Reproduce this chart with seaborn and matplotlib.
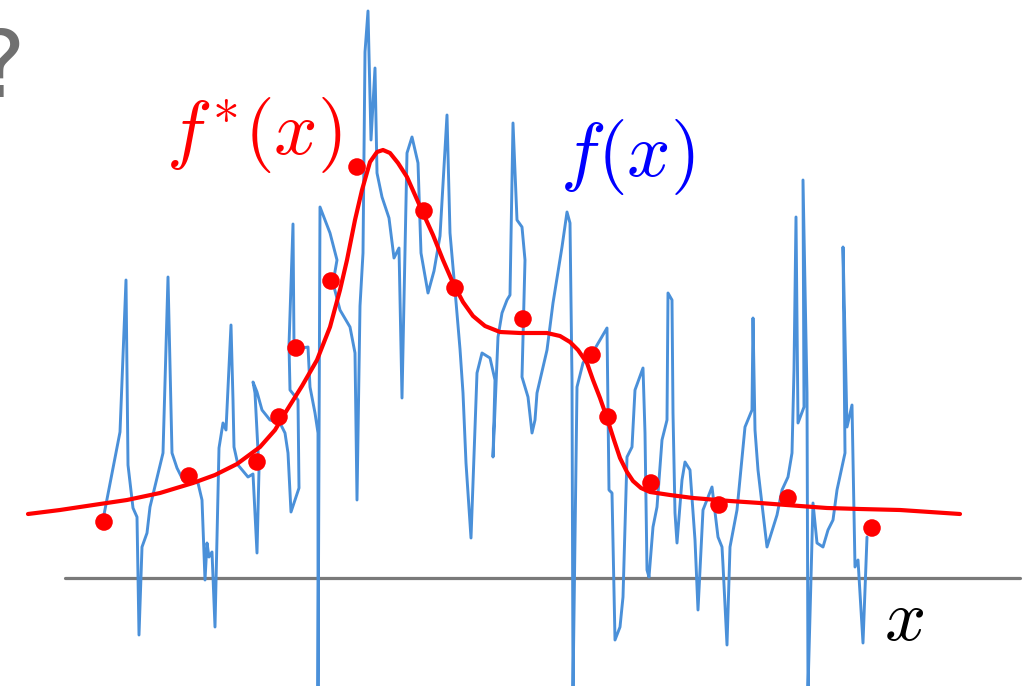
import numpy as np
import pandas as pd
import matplotlib
matplotlib.use("Agg")
import matplotlib.pyplot as plt
import seaborn as sns

# Over-fitted curve f(x): a jagged path that passes near every sample
f_x = [102, 120, 126, 128, 133, 137, 139, 142, 147, 150, 157, 163, 168, 172, 177, 183, 198, 202,
       205, 207, 209, 212, 215, 219, 223, 226, 231, 233, 234, 238, 248, 253, 257, 259, 255, 253,
       257, 262, 270, 280, 285, 288, 291, 299, 298, 290, 289, 293, 294, 298, 302, 308, 310, 315,
       318, 318, 320, 330, 337, 333, 340, 350, 355, 357, 360, 363, 365, 368, 371, 375, 377, 382,
       389, 394, 399, 402, 407, 412, 418, 421, 428, 434, 440, 447, 450, 455, 460, 463, 466, 471,
       477, 482, 490, 495, 493, 498, 502, 507, 510, 513, 517, 522, 525, 522, 528, 532, 535, 537,
       547, 553, 562, 567, 570, 572, 573, 577, 583, 587, 593, 607, 609, 612, 615, 620, 623, 627,
       632, 635, 643, 645, 647, 649, 653, 657, 662, 667, 668, 672, 673, 675, 677, 682, 685, 690,
       695, 698, 703, 712, 718, 722, 723, 727, 730, 737, 745, 752, 753, 755, 758, 767, 777, 782,
       788, 792, 794, 796, 798, 804, 803, 807, 808, 813, 817, 823, 828, 833, 837, 845, 843, 847,
       852, 855, 858, 863, 867]
f_y = [53, 146, 298, 113, 70, 61, -57, 31, 45, 71, 100, 125, 301, 125, 110, 98, 95, 78,
       -2, 35, 21, 26, -49, 130, 155, 148, 253, 178, 131, 113, 101, 104, 25, 108, 185, 196,
       186, 168, 158, 155, 145, 125, 66, 90, 178, 188, 233, 354, 233, 226, 230, 231, 191, 165,
       145, -112, 371, 345, 318, 295, 268, 251, 225, 78, 272, 325, 526, 567, 438, 510, 405, 381,
       360, 320, 330, 180, 425, 441, 415, 325, 285, 307, 342, 463, 345, 288, 229, 185, 115, 40,
       205, 225, 220, 198, 121, 241, 265, 278, 283, 455, 358, 351, 318, 201, 181, 145, 158, 185,
       228, 275, 331, 366, 355, 198, -112, 191, 215, 221, 226, 250, 88, 85, -62, -49, -19, 121,
       131, 188, 210, 145, 8, 1, 51, 71, 138, 158, 285, 278, 165, 65, 35, 98, 116, 108,
       38, -32, 68, 91, 41, 31, 13, -67, 31, 68, 151, 168, 260, 148, 108, 31, 63, 88,
       101, 125, 208, 361, 155, 171, 398, 185, -112, 75, 35, 31, 48, 58, 88, 125, 331, 151,
       173, 11, 18, -65, 41]

# Smooth target curve f*(x)
g_x = [28, 60, 100, 127, 160, 193, 215, 237, 260, 275, 287, 302, 317, 330, 340, 347, 355, 362,
       370, 377, 383, 390, 398, 407, 415, 423, 433, 443, 453, 463, 473, 485, 500, 520, 547, 560,
       570, 578, 587, 593, 600, 607, 614, 620, 627, 633, 641, 650, 670, 693, 730, 760, 800, 827,
       860, 900, 930, 960]
g_y = [64, 68, 74, 78, 85, 95, 103, 114, 131, 148, 168, 192, 218, 251, 288, 318, 358, 388,
       416, 426, 428, 425, 415, 401, 383, 365, 343, 318, 295, 276, 262, 252, 246, 245, 245, 242,
       236, 228, 215, 198, 180, 160, 138, 120, 106, 97, 90, 86, 83, 80, 77, 75, 72, 70,
       69, 68, 66, 64]

# Noisy samples
pt_x = [104, 189, 257, 279, 296, 331, 357, 424, 455, 523, 592, 608, 651, 719, 788, 872]
pt_y = [56, 102, 116, 161, 230, 297, 411, 367, 290, 259, 223, 161, 95, 73, 80, 50]

axis_start, axis_end = 65, 1020

sns.set_theme(style="white")
plt.rcParams["mathtext.fontset"] = "cm"

fig = plt.figure(figsize=(10.32, 6.86), dpi=100)
ax = fig.add_axes([0, 0, 1, 1])
ax.set_xlim(0, 1032)
ax.set_ylim(-108, 578)
ax.axis("off")

# horizontal x axis
sns.lineplot(x=[axis_start, axis_end], y=[0, 0], ax=ax, color="#7a7a7a", linewidth=2.3)

wiggly = pd.DataFrame({"x": f_x, "y": f_y})
sns.lineplot(data=wiggly, x="x", y="y", sort=False, estimator=None, ax=ax,
             color="#4a90d9", linewidth=2.1, zorder=2)

smooth = pd.DataFrame({"x": g_x, "y": g_y})
sns.lineplot(data=smooth, x="x", y="y", sort=False, estimator=None, ax=ax,
             color="#ff0000", linewidth=3.0, zorder=3)

samples = pd.DataFrame({"x": pt_x, "y": pt_y})
sns.scatterplot(data=samples, x="x", y="y", ax=ax, color="#ff0000", s=160,
                edgecolor="none", zorder=4)

ax.text(166, 424, r"$f^{*}(x)$", color="#ff0000", fontsize=55, ha="left", va="baseline")
ax.text(560, 402, r"$f(x)$", color="#0000ff", fontsize=55, ha="left", va="baseline")
ax.text(884, -62, r"$x$", color="black", fontsize=52, ha="left", va="baseline")
ax.text(25, 481, "?", color="#707070", fontsize=66, ha="right", va="baseline",
        family="DejaVu Sans")

fig.savefig("out.png", dpi=100)
